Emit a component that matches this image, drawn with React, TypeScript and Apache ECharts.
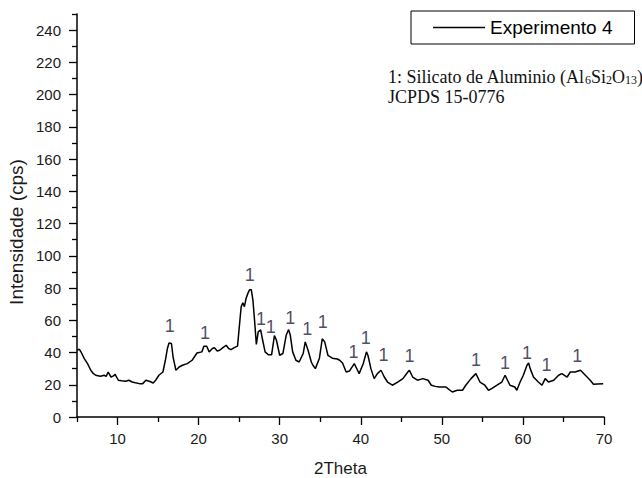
import React, { useEffect, useRef } from "react";
import * as echarts from "echarts";

// 2Theta positions (degrees) of the measured trace
const twoTheta: number[] = [
  5.0, 5.3, 5.5, 5.9, 6.3, 6.7, 7.0, 7.3, 7.9, 8.35, 8.6, 8.85, 9.2, 9.5, 9.7,
  10.1, 10.5, 11.0, 11.4, 11.8, 12.2, 12.7, 13.1, 13.5, 14.0, 14.4, 14.7, 15.1,
  15.6, 15.9, 16.15, 16.35, 16.65, 16.85, 17.2, 17.6, 18.0, 18.6, 19.2, 19.8,
  20.4, 20.65, 21.0, 21.3, 21.7, 21.95, 22.3, 22.6, 23.0, 23.4, 23.7, 24.0,
  24.4, 24.8, 25.0, 25.25, 25.45, 25.65, 25.85, 26.1, 26.3, 26.5, 26.7, 26.9,
  27.12, 27.35, 27.65, 27.9, 28.2, 28.6, 29.0, 29.35, 29.6, 30.0, 30.4, 30.8,
  31.1, 31.3, 31.6, 32.0, 32.4, 32.9, 33.15, 33.5, 33.9, 34.1, 34.4, 34.9,
  35.25, 35.55, 35.95, 36.5, 37.1, 37.4, 37.75, 38.2, 38.6, 39.2, 39.6, 39.8,
  40.3, 40.7, 40.9, 41.25, 41.65, 42.05, 42.5, 42.9, 43.3, 43.9, 44.55, 45.2,
  45.8, 46.0, 46.4, 47.0, 47.65, 48.3, 48.7, 49.2, 49.7, 50.5, 50.9, 51.3,
  51.9, 52.55, 52.95, 53.6, 54.2, 54.7, 55.3, 55.75, 56.15, 56.8, 57.4, 57.8,
  58.1, 58.4, 59.0, 59.25, 59.65, 60.05, 60.5, 60.7, 60.9, 61.3, 61.9, 62.35,
  62.75, 63.15, 63.8, 64.4, 64.8, 65.45, 65.85, 66.45, 67.1, 67.7, 68.3, 68.7,
  69.2, 69.9,
];

// Intensity (cps) at each 2Theta position
const intensity: number[] = [
  41.5, 42.0, 40.3, 36.2, 33.1, 29.0, 27.0, 25.9, 25.3, 25.9, 25.2, 27.9, 24.8,
  25.5, 26.5, 22.8, 22.5, 22.2, 22.8, 21.7, 21.2, 20.7, 20.7, 22.8, 22.0, 21.1,
  22.8, 25.9, 27.9, 35.2, 42.5, 45.9, 45.6, 37.2, 29.0, 31.0, 32.1, 33.1, 35.2,
  39.7, 40.4, 43.9, 43.9, 40.4, 42.5, 43.0, 41.0, 41.4, 43.0, 44.5, 42.5, 41.8,
  43.0, 44.0, 55.0, 68.5, 70.8, 68.5, 73.5, 77.0, 79.0, 79.0, 72.4, 60.0, 45.0,
  52.8, 54.0, 47.6, 40.4, 38.6, 38.6, 50.5, 47.6, 38.3, 39.4, 50.7, 54.2, 51.0,
  40.4, 35.2, 34.1, 39.4, 46.6, 41.4, 34.1, 32.1, 30.0, 36.5, 48.5, 46.6, 38.3,
  36.5, 36.0, 35.2, 33.5, 27.9, 28.5, 33.1, 29.0, 26.9, 33.0, 40.4, 38.0, 30.0,
  23.8, 26.9, 29.0, 24.8, 21.7, 19.7, 21.7, 23.8, 27.9, 29.0, 24.8, 22.8, 23.8,
  22.8, 19.7, 19.0, 18.6, 18.6, 17.0, 15.5, 16.6, 16.6, 19.7, 23.8, 26.9, 21.7,
  19.7, 16.6, 17.6, 19.7, 21.7, 25.9, 22.8, 19.7, 18.6, 16.6, 21.7, 25.9, 32.1,
  33.5, 30.0, 24.8, 21.7, 19.7, 23.8, 21.7, 22.8, 25.9, 26.9, 24.8, 27.9, 27.9,
  29.0, 25.9, 22.8, 20.3, 20.5, 20.7,
];

// Peak markers "1" (label centre positions)
const peakTheta: number[] = [
  16.45, 20.8, 26.3, 27.7, 28.9, 31.3, 33.4, 35.3, 39.1, 40.6, 42.8, 46.0, 54.2,
  57.8, 60.5, 62.9, 66.7,
];
const peakLabelY: number[] = [
  56.3, 51.8, 88, 60.5, 55.9, 61.7, 54.9, 59, 40.4, 49.3, 38.7, 37.9, 35.2,
  33.7, 39.7, 32.5, 37.9,
];
const peakText = "1";

// Axis ticks
const yMajorTicks: number[] = [0, 20, 40, 60, 80, 100, 120, 140, 160, 180, 200, 220, 240];
const yMinorTicks: number[] = [10, 30, 50, 70, 90, 110, 130, 150, 170, 190, 210, 230, 250];
const xMajorTicks: number[] = [10, 20, 30, 40, 50, 60, 70];
const xMinorTicks: number[] = [5, 15, 25, 35, 45, 55, 65];

const seriesName = "Experimento 4";
const noteLine1 = "1: Silicato de Aluminio (Al{s|6}Si{s|2}O{s|13})";
const noteLine2 = "JCPDS 15-0776";
const xTitle = "2Theta";
const yTitle = "Intensidade (cps)";

const SANS = "'Liberation Sans', Arial, sans-serif";
const SERIF = "'Liberation Serif', 'Times New Roman', serif";

export default function App() {
  const ref = useRef<HTMLDivElement>(null);

  useEffect(() => {
    document.body.style.margin = "0";
    if (!ref.current) return;
    const chart = echarts.init(ref.current, undefined, { renderer: "svg" });

    const lineData = twoTheta.map((x, i) => [x, intensity[i]]);
    const peakData = peakTheta.map((x, i) => [x, peakLabelY[i]]);

    const axisLineStyle = { color: "#000", width: 1.5 };
    const labelStyle = { color: "#1a1a1a", fontSize: 15, fontFamily: SANS };

    chart.setOption({
      animation: false,
      backgroundColor: "#fff",
      grid: {
        left: 77,
        right: 38,
        top: 14,
        bottom: 61,
        containLabel: false,
        outerBoundsMode: "none",
      },
      legend: {
        data: [seriesName],
        left: 411,
        top: 11,
        padding: [7, 22, 7, 22],
        borderColor: "#000",
        borderWidth: 1,
        backgroundColor: "#fff",
        icon: "rect",
        itemWidth: 52,
        itemHeight: 1.5,
        textStyle: { fontSize: 19, fontFamily: SANS, color: "#000" },
      },
      xAxis: [
        {
          type: "value",
          min: 5,
          max: 70,
          interval: 5,
          name: xTitle,
          nameLocation: "middle",
          nameGap: 43,
          nameTextStyle: { fontSize: 17, fontFamily: SANS, color: "#1a1a1a" },
          axisLine: { show: true, onZero: false, lineStyle: axisLineStyle },
          axisTick: {
            show: true,
            inside: false,
            length: 8,
            customValues: xMajorTicks,
            lineStyle: { color: "#000", width: 1.3 },
          },
          axisLabel: {
            ...labelStyle,
            margin: 14,
            customValues: xMajorTicks,
            formatter: (v: number) => (xMajorTicks.includes(v) ? String(v) : ""),
          },
          splitLine: { show: false },
        },
        {
          type: "value",
          min: 5,
          max: 70,
          interval: 5,
          position: "bottom",
          axisLine: { show: false, onZero: false },
          axisTick: {
            show: true,
            length: 5,
            customValues: xMinorTicks,
            lineStyle: { color: "#000", width: 1.3 },
          },
          axisLabel: { show: false },
          splitLine: { show: false },
        },
      ],
      yAxis: [
        {
          type: "value",
          min: 0,
          max: 250,
          interval: 10,
          axisLine: { show: true, onZero: false, lineStyle: axisLineStyle },
          axisTick: {
            show: true,
            length: 8,
            customValues: yMajorTicks,
            lineStyle: { color: "#000", width: 1.3 },
          },
          axisLabel: {
            ...labelStyle,
            margin: 16,
            customValues: yMajorTicks,
            formatter: (v: number) => (yMajorTicks.includes(v) ? String(v) : ""),
          },
          splitLine: { show: false },
        },
        {
          type: "value",
          min: 0,
          max: 250,
          interval: 10,
          position: "left",
          axisLine: { show: false, onZero: false },
          axisTick: {
            show: true,
            length: 5,
            customValues: yMinorTicks,
            lineStyle: { color: "#000", width: 1.3 },
          },
          axisLabel: { show: false },
          splitLine: { show: false },
        },
      ],
      series: [
        {
          name: seriesName,
          type: "line",
          xAxisIndex: 0,
          yAxisIndex: 0,
          data: lineData,
          showSymbol: false,
          symbol: "none",
          lineStyle: { color: "#000", width: 1.5 },
          itemStyle: { color: "#000" },
          silent: true,
        },
        {
          name: "peaks",
          type: "scatter",
          xAxisIndex: 0,
          yAxisIndex: 0,
          data: peakData,
          symbolSize: 2,
          itemStyle: { color: "rgba(0,0,0,0)" },
          silent: true,
          label: {
            show: true,
            position: "inside",
            formatter: () => peakText,
            fontSize: 18,
            fontFamily: SANS,
            color: "#1e1a3c",
          },
        },
      ],
      graphic: [
        {
          type: "text",
          x: 16,
          y: 232,
          rotation: Math.PI / 2,
          style: {
            text: yTitle,
            fontSize: 19,
            fontFamily: SANS,
            fill: "#1a1a1a",
            align: "center",
            verticalAlign: "middle",
          },
        },
        {
          type: "text",
          x: 388,
          y: 77,
          style: {
            text: noteLine1,
            fontSize: 18,
            fontFamily: SERIF,
            fill: "#111",
            align: "left",
            verticalAlign: "middle",
            rich: {
              s: {
                fontSize: 12,
                fontFamily: SERIF,
                fill: "#111",
                verticalAlign: "bottom",
                padding: [6, 0, 0, 0],
              },
            },
          },
        },
        {
          type: "text",
          x: 388,
          y: 97,
          style: {
            text: noteLine2,
            fontSize: 18,
            fontFamily: SERIF,
            fill: "#111",
            align: "left",
            verticalAlign: "middle",
          },
        },
      ],
    });

    return () => chart.dispose();
  }, []);

  return <div ref={ref} style={{ width: 642, height: 478 }} />;
}
